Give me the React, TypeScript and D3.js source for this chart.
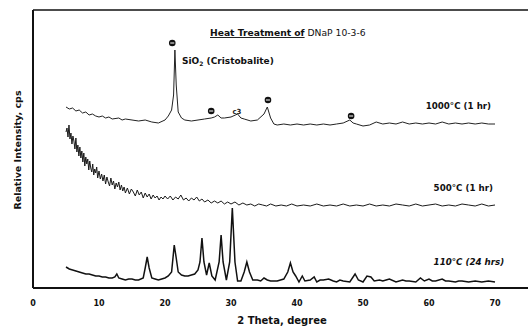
import React from "react";
import * as d3 from "d3";

// 2-theta (degrees) and relative intensity (cps, arbitrary offset units)
const s1000: [number, number][] = [
  [5,181],[5.5,179],[6,180],[6.5,177],[7,178],[7.5,175],[8,176],[8.5,173],[9,174],[9.5,172],[10,171],[10.5,172],[11,170],[11.5,171],[12,169],[13,170],[13.5,168],[14,169],[15,168],[16,167],[17,168],[18,166],[19,165],[20,168],[20.5,172],[21,178],[21.3,193],[21.5,238],[21.7,203],[22,176],[22.5,170],[23,168],[24,167],[25,168],[26,169],[27,170],[27.5,171],[28,173],[28.5,170],[29,170],[30,171],[31,174],[31.5,170],[32,169],[33,167],[34,168],[35,174],[35.5,181],[36,170],[36.5,164],[37,163],[38,164],[39,163],[40,164],[41,163],[42,164],[43,163],[44,164],[45,163],[46,164],[47,165],[48,168],[48.5,165],[49,164],[50,162],[51,163],[52,166],[53,164],[54,165],[55,164],[56,166],[57,164],[58,165],[59,164],[60,165],[61,164],[62,166],[63,164],[64,165],[65,164],[66,165],[67,164],[68,165],[69,164],[70,164]
];
const s500: [number, number][] = [
  [5,156],[5.15,160],[5.3,151],[5.45,163],[5.6,149],[5.75,155],[5.9,144],[6.05,152],[6.2,147],[6.35,139],[6.5,150],[6.65,136],[6.8,143],[6.95,132],[7.1,141],[7.25,130],[7.4,137],[7.55,126],[7.7,135],[7.85,122],[8,131],[8.15,124],[8.3,129],[8.45,118],[8.6,127],[8.75,120],[8.9,116],[9.05,124],[9.2,113],[9.35,119],[9.5,115],[9.65,121],[9.8,110],[10,117],[10.2,109],[10.4,114],[10.6,107],[10.8,113],[11,104],[11.2,111],[11.4,106],[11.6,102],[11.8,110],[12,103],[12.2,107],[12.4,99],[12.6,105],[12.8,101],[13,106],[13.2,98],[13.4,103],[13.6,97],[13.8,101],[14,95],[14.3,100],[14.6,94],[14.9,99],[15.2,96],[15.5,92],[15.8,98],[16.1,93],[16.4,96],[16.7,90],[17,95],[17.3,91],[17.6,94],[17.9,89],[18.2,93],[18.5,90],[18.8,92],[19.1,88],[19.4,91],[19.7,89],[20,92],[20.4,89],[20.8,92],[21.2,88],[21.6,91],[22,89],[22.4,93],[22.8,88],[23.2,90],[23.6,87],[24,90],[24.4,88],[24.8,91],[25.2,87],[25.6,89],[26,86],[26.5,88],[27,85],[27.5,87],[28,85],[28.5,87],[29,84],[29.5,86],[30,84],[30.6,86],[31.2,83],[31.8,85],[32.4,83],[33,84],[33.6,82],[34.2,84],[34.8,83],[35.4,82],[36,84],[36.8,82],[37.6,83],[38.4,82],[39.2,84],[40,82],[41,83],[42,82],[43,84],[44,82],[45,83],[46,82],[47,84],[48,82],[49,83],[50,82],[51,84],[52,82],[53,83],[54,82],[55,84],[56,83],[57,82],[58,84],[59,82],[60,83],[61,84],[62,82],[63,83],[64,82],[65,84],[66,83],[67,82],[68,84],[69,82],[70,83]
];
const s110: [number, number][] = [
  [5,21],[5.5,19],[6,18],[6.5,17],[7,16],[7.5,15],[8,14],[8.5,14],[9,13],[9.5,12],[10,12],[10.5,11],[11,11],[11.5,10],[12,10],[12.4,11],[12.7,14],[13,10],[13.5,9],[14,8],[14.5,9],[15,9],[15.5,8],[16,8],[16.7,10],[17,20],[17.3,31],[17.6,20],[18,10],[18.5,9],[19,8],[19.5,9],[20,10],[20.5,12],[21,16],[21.4,43],[21.7,30],[22,16],[22.5,13],[23,12],[23.5,12],[24,13],[24.5,14],[25,18],[25.3,26],[25.6,50],[25.9,26],[26.3,13],[26.7,25],[27.1,12],[27.6,8],[28.2,26],[28.5,53],[28.8,26],[29.3,8],[29.8,26],[30.2,80],[30.6,26],[31,7],[31.5,7],[32,16],[32.4,26],[32.8,16],[33.3,8],[34,8],[34.5,7],[35,10],[35.5,8],[36,7],[37,7],[37.5,8],[38,9],[38.6,16],[39,25],[39.4,16],[39.8,12],[40.3,6],[40.8,12],[41.2,7],[42,8],[42.6,11],[43,6],[43.5,8],[44,8],[44.8,9],[45.5,7],[46,6],[46.5,8],[47,7],[48,6],[48.8,14],[49.3,8],[50,6],[50.6,12],[51.2,11],[51.7,7],[52.5,8],[53,7],[53.5,8],[54,9],[55,6],[56,8],[56.5,7],[57,7],[58,6],[58.7,10],[59.3,7],[60,9],[60.5,7],[61,7],[62,9],[62.5,7],[63,7],[64,6],[64.5,7],[65,7],[66,6],[67,7],[68,6],[69,7],[70,6]
];
const markers: [number, number][] = [[21.1, 245], [27, 177], [35.6, 188], [48.2, 172]];
const xTicks = [0, 10, 20, 30, 40, 50, 60, 70];
const seriesLabels = [
  { text: "1000°C (1 hr)", deg: 59.5, val: 182, italic: false },
  { text: "500°C (1 hr)", deg: 60.7, val: 100, italic: false },
  { text: "110°C (24 hrs)", deg: 60.7, val: 26, italic: true },
];

const W = 528, H = 329;
const x = d3.scaleLinear().domain([0, 75]).range([33, 528]);
const y = d3.scaleLinear().domain([0, 278]).range([288, 10]);
const line = d3.line<[number, number]>().x(d => x(d[0])).y(d => y(d[1]));
const font = "'DejaVu Sans', 'Liberation Sans', Arial, sans-serif";

export default function App() {
  return (
    <svg width={W} height={H} style={{ position: "absolute", left: 0, top: 0, background: "#fff" }} fontFamily={font}>
      <rect width={W} height={H} fill="#fff" />
      {/* frame */}
      <line x1={x(0)} x2={W} y1={y(278)} y2={y(278)} stroke="#111" strokeWidth={1.5} />
      <line x1={x(0)} x2={x(0)} y1={y(278)} y2={y(0)} stroke="#111" strokeWidth={2} />
      <line x1={x(0)} x2={W} y1={y(0)} y2={y(0)} stroke="#111" strokeWidth={2} />
      {/* series */}
      <path d={line(s1000) || ""} fill="none" stroke="#222" strokeWidth={1} />
      <path d={line(s500) || ""} fill="none" stroke="#1a1a1a" strokeWidth={1} />
      <path d={line(s110) || ""} fill="none" stroke="#111" strokeWidth={1.5} />
      {/* markers */}
      {markers.map((m, i) => (
        <g key={i} transform={`translate(${x(m[0])},${y(m[1])})`}>
          <circle r={3.3} fill="#111" />
          <line x1={-2} x2={2} y1={0} y2={0} stroke="#fff" strokeWidth={1} />
        </g>
      ))}
      <text x={x(30.9)} y={y(177) + 3} fontSize={7} fontWeight="bold" textAnchor="middle" fill="#222">c3</text>
      {/* tick labels */}
      {xTicks.map(t => (
        <text key={t} x={x(t)} y={306} fontSize={8} fontWeight="bold" textAnchor="middle" fill="#111">{t}</text>
      ))}
      <text x={282} y={324} fontSize={10} fontWeight="bold" textAnchor="middle" fill="#111">2 Theta, degree</text>
      <text transform="translate(21,150) rotate(-90)" fontSize={9.5} fontWeight="bold" textAnchor="middle" fill="#111">Relative Intensity, cps</text>
      {/* title */}
      <text x={210} y={36} fontSize={9.2} fill="#111">
        <tspan fontWeight="bold" textDecoration="underline">Heat Treatment of</tspan>
        <tspan> DNaP 10-3-6</tspan>
      </text>
      <text x={182} y={64} fontSize={9} fontWeight="bold" fill="#111">
        SiO<tspan fontSize={6} dy={2}>2</tspan><tspan dy={-2}> (Cristobalite)</tspan>
      </text>
      {seriesLabels.map((l, i) => (
        <text key={i} x={x(l.deg)} y={y(l.val) + 3} fontSize={8.7} fontWeight="bold" fontStyle={l.italic ? "italic" : "normal"} fill="#111">{l.text}</text>
      ))}
    </svg>
  );
}
